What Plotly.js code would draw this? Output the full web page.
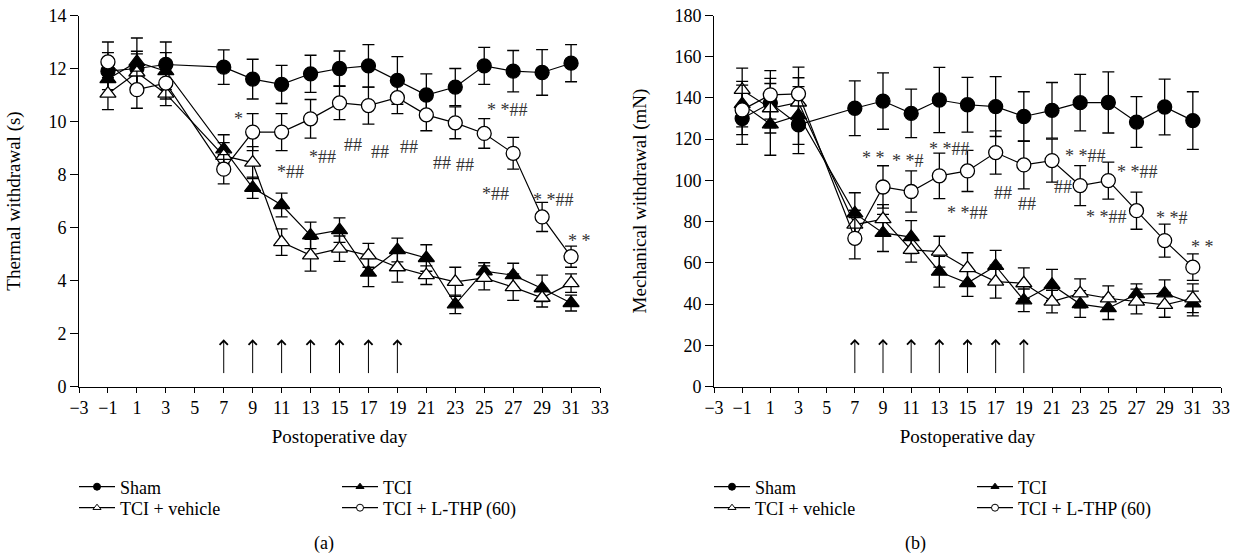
<!DOCTYPE html>
<html>
<head>
<meta charset="utf-8">
<script src="https://cdn.plot.ly/plotly-3.0.1.min.js"></script>
<style>html,body{margin:0;padding:0;background:#fff;}#chart{width:1236px;height:560px;}</style>
</head>
<body>
<div id="chart"></div>
<script>
// ---------- data ----------
const days = [-1, 1, 3, 7, 9, 11, 13, 15, 17, 19, 21, 23, 25, 27, 29, 31];
const xTicks = [-3, -1, 1, 3, 5, 7, 9, 11, 13, 15, 17, 19, 21, 23, 25, 27, 29, 31, 33];
const arrowDays = [7, 9, 11, 13, 15, 17, 19];
const seriesNames = ["Sham", "TCI", "TCI + vehicle", "TCI + L-THP (60)"];

// (a) thermal withdrawal (s)
const thermSham = [11.9, 12.0, 12.15, 12.05, 11.6, 11.4, 11.8, 12.0, 12.1, 11.55, 11.0, 11.3, 12.1, 11.9, 11.85, 12.2];
const thermShamErr = [0.7, 0.65, 0.85, 0.65, 0.75, 0.72, 0.7, 0.66, 0.8, 0.9, 0.8, 0.7, 0.7, 0.78, 0.86, 0.7];
const thermTCI = [11.6, 12.25, 11.9, 8.95, 7.5, 6.85, 5.7, 5.9, 4.3, 5.15, 4.85, 3.1, 4.35, 4.2, 3.7, 3.15];
const thermTCIErr = [0.6, 0.9, 0.7, 0.55, 0.4, 0.45, 0.5, 0.46, 0.53, 0.45, 0.5, 0.35, 0.32, 0.45, 0.5, 0.3];
const thermVeh = [11.05, 11.85, 11.05, 8.7, 8.45, 5.45, 4.95, 5.2, 4.95, 4.5, 4.2, 3.95, 4.1, 3.75, 3.35, 3.9];
const thermVehErr = [0.6, 0.7, 0.45, 0.5, 0.6, 0.5, 0.6, 0.48, 0.45, 0.56, 0.35, 0.55, 0.45, 0.5, 0.35, 0.35];
const thermLTHP = [12.25, 11.2, 11.45, 8.2, 9.6, 9.6, 10.1, 10.7, 10.6, 10.9, 10.25, 9.95, 9.55, 8.8, 6.4, 4.9];
const thermLTHPErr = [0.75, 0.7, 0.6, 0.55, 0.7, 0.7, 0.73, 0.63, 0.7, 0.6, 0.6, 0.6, 0.56, 0.6, 0.55, 0.4];

// (b) mechanical withdrawal (mN)
const mechSham = [130, 137.5, 127, 135, 138.5, 132.5, 139, 136.7, 135.8, 131, 134, 137.7, 137.8, 128.3, 135.6, 129];
const mechShamErr = [12.5, 12, 14, 13.3, 13.7, 11.8, 15.8, 13.3, 14.5, 12, 13.5, 13.7, 14.8, 12.3, 13.5, 14];
const mechTCI = [137, 127.2, 131.5, 84, 74.5, 72.5, 55.7, 50.2, 58.5, 41.8, 49.3, 40, 38, 44.8, 45.2, 40.3];
const mechTCIErr = [11, 15, 14, 10, 9, 8, 7.5, 6.5, 7.5, 5.5, 7.5, 6.5, 5.5, 5, 6.5, 6];
const mechVeh = [143.9, 135, 137.8, 78.5, 81.2, 66.3, 65.4, 57.4, 50.9, 50.1, 41.2, 45.2, 42.8, 41.2, 39.6, 42.8];
const mechVehErr = [10.6, 12, 12, 7, 7, 6, 7.5, 7.5, 8, 7.5, 5.5, 7, 6, 6, 6, 7];
const mechLTHP = [134.2, 141.5, 142, 71.9, 96.8, 94.6, 102.2, 104.6, 113.5, 107.5, 109.6, 97.5, 99.9, 85.3, 70.8, 57.9];
const mechLTHPErr = [12, 11.8, 13, 10, 10.3, 10, 11, 10, 10.5, 11.6, 10.4, 9.7, 9, 9, 8, 6.4];

// significance labels (text, day, value)
const thermSigText = ["*", "*##", "*##", "##", "##", "##", "##", "##", "* *##", "*##", "* *##", "* *"];
const thermSigX = [8.0, 11.6, 13.8, 15.9, 17.8, 19.8, 22.1, 23.7, 26.6, 25.8, 29.8, 31.6];
const thermSigY = [10.1, 8.1, 8.65, 9.1, 8.85, 9.05, 8.45, 8.35, 10.45, 7.25, 7.05, 5.5];
const mechSigText = ["* *", "* *#", "* *##", "* *##", "##", "##", "##", "* *##", "* *##", "* *##", "* *#", "* *"];
const mechSigX = [8.3, 10.8, 13.7, 15.0, 17.5, 19.2, 21.8, 23.4, 27.1, 24.9, 29.5, 31.7];
const mechSigY = [110.8, 109.5, 115.3, 84.4, 94.1, 88.6, 96.7, 111.6, 104.3, 82.1, 81.7, 67.9];

// ---------- styles ----------
const FONT = "Liberation Serif";
const styles = [
  {symbol: "circle", fill: "#000"},
  {symbol: "triangle-up", fill: "#000"},
  {symbol: "triangle-up", fill: "#fff"},
  {symbol: "circle", fill: "#fff"}
];

function series(xa, ya, vals, errs, k) {
  return {
    type: "scatter", mode: "lines+markers", x: days, y: vals,
    xaxis: xa, yaxis: ya, showlegend: false, name: seriesNames[k],
    line: {color: "#000", width: 1.2},
    marker: {symbol: styles[k].symbol, size: 14, color: styles[k].fill, line: {color: "#000", width: 1.3}},
    error_y: {type: "data", array: errs, visible: true, color: "#000", thickness: 1.3, width: 6}
  };
}
function legendItem(xa, ya, k, leg) {
  return {
    type: "scatter", mode: "lines+markers", x: [null], y: [null], xaxis: xa, yaxis: ya,
    name: seriesNames[k], legend: leg, showlegend: true,
    line: {color: "#000", width: 1.3},
    marker: {symbol: styles[k].symbol, size: 7, color: styles[k].fill, line: {color: "#000", width: 1}}
  };
}

const data = [
  series("x", "y", thermSham, thermShamErr, 0),
  series("x", "y", thermTCI, thermTCIErr, 1),
  series("x", "y", thermVeh, thermVehErr, 2),
  series("x", "y", thermLTHP, thermLTHPErr, 3),
  series("x2", "y2", mechSham, mechShamErr, 0),
  series("x2", "y2", mechTCI, mechTCIErr, 1),
  series("x2", "y2", mechVeh, mechVehErr, 2),
  series("x2", "y2", mechLTHP, mechLTHPErr, 3),
  legendItem("x", "y", 0, "legend"),
  legendItem("x", "y", 1, "legend"),
  legendItem("x", "y", 2, "legend2"),
  legendItem("x", "y", 3, "legend2"),
  legendItem("x2", "y2", 0, "legend3"),
  legendItem("x2", "y2", 1, "legend3"),
  legendItem("x2", "y2", 2, "legend4"),
  legendItem("x2", "y2", 3, "legend4")
];

// ---------- annotations ----------
const annotations = [];
function addSig(xr, yr, xs, ys, ts) {
  for (let i = 0; i < ts.length; i++) {
    annotations.push({xref: xr, yref: yr, x: xs[i], y: ys[i], text: ts[i], showarrow: false,
      font: {family: FONT, size: 18, color: "#333"}});
  }
}
addSig("x", "y", thermSigX, thermSigY, thermSigText);
addSig("x2", "y2", mechSigX, mechSigY, mechSigText);
function addArrows(xr, yr, y0, y1) {
  arrowDays.forEach(d => annotations.push({xref: xr, yref: yr, axref: xr, ayref: yr,
    x: d, y: y1, ax: d, ay: y0, text: "", showarrow: true, arrowhead: 4, arrowsize: 1.6,
    arrowwidth: 1, arrowcolor: "#000", standoff: 0, startstandoff: 0}));
}
addArrows("x", "y", 0.45, 1.78);
addArrows("x2", "y2", 5.8, 23);
annotations.push({xref: "paper", yref: "paper", x: 312 / 1236, y: (560 - 543) / 560, yanchor: "middle",
  text: "(a)", showarrow: false, font: {family: FONT, size: 18, color: "#000"}});
annotations.push({xref: "paper", yref: "paper", x: 928 / 1236, y: (560 - 543) / 560, yanchor: "middle",
  text: "(b)", showarrow: false, font: {family: FONT, size: 18, color: "#000"}});

// ---------- axes ----------
function xAxis(dom) {
  return {domain: dom, range: [-3, 33], tickvals: xTicks, ticks: "outside", ticklen: 5, tickwidth: 1,
    tickcolor: "#000", showline: true, linecolor: "#000", linewidth: 1, showgrid: false, zeroline: false,
    tickfont: {family: FONT, size: 18, color: "#000"},
    title: {text: "Postoperative day", font: {family: FONT, size: 19, color: "#000"}, standoff: 12}};
}
function yAxis(dom, rng, dt, title) {
  return {domain: dom, range: rng, dtick: dt, ticks: "outside", ticklen: 8, tickwidth: 1,
    tickcolor: "#000", showline: true, linecolor: "#000", linewidth: 1, showgrid: false, zeroline: false,
    tickfont: {family: FONT, size: 18, color: "#000"},
    title: {text: title, font: {family: FONT, size: 19, color: "#000"}, standoff: 22}};
}
const yDom = [(560 - 386.5) / 560, (560 - 15.5) / 560];
function legendCfg(xpx, ypx) {
  return {orientation: "h", x: xpx / 1236, y: (560 - ypx) / 560, xanchor: "left", yanchor: "middle",
    entrywidth: 212, entrywidthmode: "pixels", bgcolor: "rgba(0,0,0,0)", itemwidth: 36,
    font: {family: FONT, size: 18, color: "#000"}, traceorder: "normal"};
}

const layout = {
  width: 1236, height: 560, margin: {l: 0, r: 0, t: 0, b: 0, autoexpand: false},
  paper_bgcolor: "#fff", plot_bgcolor: "#fff",
  font: {family: FONT, color: "#000"},
  xaxis: Object.assign(xAxis([79 / 1236, 600 / 1236]), {anchor: "y"}),
  yaxis: Object.assign(yAxis(yDom, [0, 14], 2, "Thermal withdrawal (s)"), {anchor: "x"}),
  xaxis2: Object.assign(xAxis([714 / 1236, 1221 / 1236]), {anchor: "y2"}),
  yaxis2: Object.assign(yAxis(yDom, [0, 180], 20, "Mechanical withdrawal (mN)"), {anchor: "x2"}),
  legend: legendCfg(74, 487),
  legend2: legendCfg(74, 508),
  legend3: legendCfg(709, 487),
  legend4: legendCfg(709, 508),
  annotations: annotations,
  showlegend: true
};

Plotly.newPlot("chart", data, layout, {displayModeBar: false, staticPlot: true});
</script>
</body>
</html>
